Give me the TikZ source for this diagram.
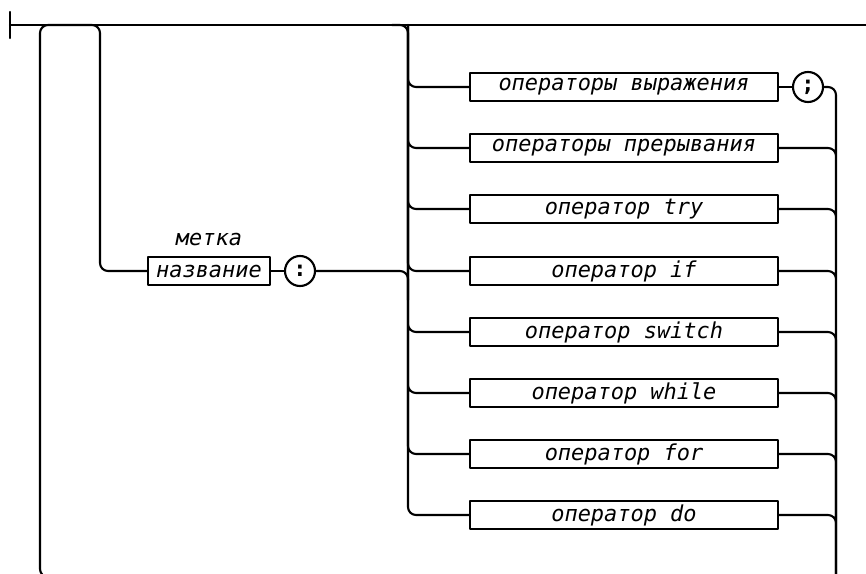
\documentclass[tikz,border=0pt]{standalone}
\usepackage{fontspec}
\setmonofont{DejaVu Sans Mono}
\usetikzlibrary{positioning}
\begin{document}
\begin{tikzpicture}[x=0.025cm,y=-0.025cm,line width=1.5pt,line join=round,line cap=round,
	font=\fontsize{15.6}{18}\selectfont\ttfamily\itshape,
	rail/.style={rounded corners=0.2cm},
	box/.style={draw,minimum width=7.7cm,minimum height=0.7cm,inner sep=1pt},
	term/.style={draw,circle,minimum size=0.75cm,inner sep=0pt,font=\fontsize{15.6}{18}\selectfont\ttfamily\bfseries}]
	\useasboundingbox (0,0) rectangle (866,573);
	\clip (0,0) rectangle (866,573);
	% rail points
	\coordinate (begin) at (10,25);
	\coordinate (exit) at (880,25);
	\coordinate (loop) at (70,577);
	\coordinate (fork) at (392,25);
	\coordinate (lrail) at (408,25);
	\coordinate (lmid) at (408,300);
	\coordinate (out) at (836,590);
	% statements
	\node[box] (expr) at (624,87) {операторы выражения};
	\node[box] (brk) at (624,148) {операторы прерывания};
	\node[box] (try) at (624,209) {оператор try};
	\node[box] (if) at (624,271) {оператор if};
	\node[box] (sw) at (624,332) {оператор switch};
	\node[box] (wh) at (624,393) {оператор while};
	\node[box] (for) at (624,454) {оператор for};
	\node[box] (do) at (624,515) {оператор do};
	\node[term] (semi) at (808,87) {;};
	% label
	\node[box,minimum width=3.05cm] (name) at (209,271) {название};
	\node[above=3pt of name] (lbl) {метка};
	\node[term] (colon) at (300,271) {:};
	% lines
	\draw (10,12)--(10,38);
	\draw (begin)--(exit);
	\draw[rail] (loop) -| (40,25) -| (name.west -| 100,0) -- (name.west);
	\draw (name.east)--(colon.west);
	\draw[rail] (colon.east) -| (lmid);
	\draw[rail] (fork) -- (lrail) |- (do.west);
	\draw[rail] (lrail) |- (expr.west) (lrail) |- (brk.west) (lrail) |- (try.west) (lrail) |- (if.west);
	\draw[rail] (lrail) |- (sw.west) (lrail) |- (wh.west) (lrail) |- (for.west);
	\draw (expr.east)--(semi.west);
	\draw[rail] (semi.east) -| (out) (brk.east) -| (out) (try.east) -| (out) (if.east) -| (out);
	\draw[rail] (sw.east) -| (out) (wh.east) -| (out) (for.east) -| (out) (do.east) -| (out);
\end{tikzpicture}
\end{document}
